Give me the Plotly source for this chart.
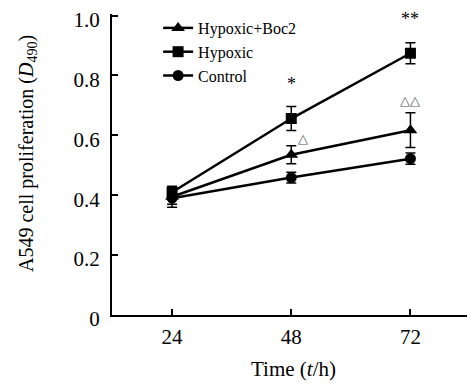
import plotly.graph_objects as go

time_h = [24, 48, 72]
boc2 = [0.395, 0.535, 0.617]
boc2_err = [0.025, 0.03, 0.058]
hypoxic = [0.41, 0.656, 0.874]
hypoxic_err = [0.02, 0.04, 0.035]
control = [0.39, 0.459, 0.522]
control_err = [0.03, 0.018, 0.019]
y_tickvals = [0, 0.2, 0.4, 0.6, 0.8, 1.0]
y_ticktext = ["0", "0.2", "0.4", "0.6", "0.8", "1.0"]
x_tickvals = [24, 48, 72]

FONT = "Liberation Serif"

fig = go.Figure()

series = [
    ("Hypoxic+Boc2", boc2, boc2_err, "triangle-up", 12),
    ("Hypoxic", hypoxic, hypoxic_err, "square", 11),
    ("Control", control, control_err, "circle", 11),
]
for name, vals, errs, sym, sz in series:
    fig.add_trace(go.Scatter(
        x=time_h, y=vals, name=name, mode="lines+markers",
        line=dict(color="black", width=2.5),
        marker=dict(symbol=sym, size=sz, color="black"),
        error_y=dict(type="data", array=errs, visible=True,
                     color="black", thickness=1.5, width=5),
    ))

annots = [
    (48, 0.772, "*", 18, "black"),
    (72, 0.989, "**", 18, "black"),
    (50.4, 0.59, "△", 13, "#555555"),
    (72, 0.717, "△△", 13, "#555555"),
]
for x, y, t, s, c in annots:
    fig.add_annotation(x=x, y=y, text=t, showarrow=False,
                       font=dict(family=FONT, size=s, color=c))

# y-axis title as rotated annotation
fig.add_annotation(
    xref="paper", yref="paper", x=-0.2314, y=0.535,
    text="A549 cell proliferation (<i>D</i><sub>490</sub>)",
    textangle=-90, showarrow=False, xanchor="center", yanchor="middle",
    font=dict(family=FONT, size=20, color="black"),
)

fig.update_layout(
    width=467, height=376,
    margin=dict(l=104, r=0, t=6, b=69, autoexpand=False),
    paper_bgcolor="white", plot_bgcolor="white",
    font=dict(family=FONT, size=21, color="black"),
    showlegend=True,
    legend=dict(x=0.127, y=1.01, xanchor="left", yanchor="top",
                font=dict(family=FONT, size=16, color="black"),
                bgcolor="rgba(0,0,0,0)", itemwidth=30,
                tracegroupgap=0),
    xaxis=dict(range=[11.9, 85], tickvals=x_tickvals, automargin=False,
               showline=True, linecolor="black", linewidth=2,
               ticks="inside", ticklen=6, tickwidth=1.5, tickcolor="black",
               showgrid=False, zeroline=False,
               ticklabelstandoff=2,
               tickfont=dict(family=FONT, size=21),
               title=dict(text="Time (<i>t</i>/h)", standoff=13,
                          font=dict(family=FONT, size=21))),
    yaxis=dict(range=[0, 1.005], tickvals=y_tickvals, ticktext=y_ticktext,
               automargin=False,
               showline=True, linecolor="black", linewidth=2,
               ticks="inside", ticklen=6, tickwidth=1.5, tickcolor="black",
               showgrid=False, zeroline=False,
               ticklabelstandoff=6, ticklabelshift=4,
               ticklabeloverflow="allow",
               tickfont=dict(family=FONT, size=21)),
)

fig.write_html("out.html")
